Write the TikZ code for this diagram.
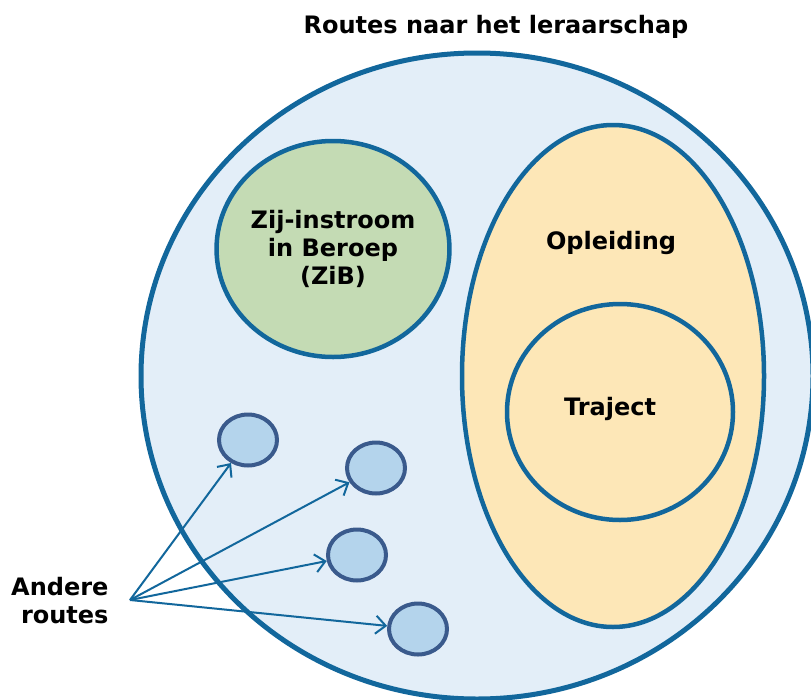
\documentclass[tikz,border=0pt]{standalone}
\usepackage{fontspec}
\setmainfont{DejaVu Sans}
\usetikzlibrary{shapes.geometric,arrows.meta}
\definecolor{rand}{HTML}{12679C}
\definecolor{lichtblauw}{HTML}{E3EEF8}
\definecolor{groen}{HTML}{C4DBB4}
\definecolor{geel}{HTML}{FDE7B7}
\definecolor{bolblauw}{HTML}{B4D4EC}
\definecolor{bolrand}{HTML}{3A5A8C}

\begin{document}
\begin{tikzpicture}[x=1pt,y=-1pt,
  vak/.style={ellipse,draw=rand,line width=4.5pt,inner sep=0pt},
  bol/.style={ellipse,draw=bolrand,fill=bolblauw,line width=4pt,minimum width=58pt,minimum height=51pt},
  tekst/.style={font=\fontsize{24}{28}\selectfont\bfseries,align=center},
  pijl/.style={-{Straight Barb[length=10pt,width=18pt]},rand,line width=2pt}]
\useasboundingbox (0,0) rectangle (811,699);
% grote bol met alle routes
\node[vak,line width=5pt,fill=lichtblauw,minimum width=672pt,minimum height=646pt] (routes) at (477,376) {};
\node[tekst,anchor=base] (titel) at (496,33) {Routes naar het leraarschap};
% ZiB
\node[vak,fill=groen,minimum width=230pt,minimum height=216pt,tekst] (zib) at (333,249) {Zij-instroom\\in Beroep\\(ZiB)};
% opleiding en traject
\node[vak,fill=geel,minimum width=302pt,minimum height=502pt] (opl) at (613,376) {};
\node[tekst,anchor=base] (opltekst) at (611,249) {Opleiding};
\node[vak,fill=geel,minimum width=226pt,minimum height=216pt] (traject) at (620,412) {};
\node[tekst,anchor=base] (trajecttekst) at (610,415) {Traject};
% andere routes
\node[bol] (bol1) at (248,440) {};
\node[bol] (bol2) at (376,468) {};
\node[bol] (bol3) at (357,555) {};
\node[bol] (bol4) at (418,629) {};
\node[tekst,align=right,anchor=east] (andere) at (112,601) {Andere\\routes};
\coordinate (bron) at (130,600);
\draw[pijl] (bron) -- (bol1);
\draw[pijl] (bron) -- (bol2);
\draw[pijl] (bron) -- (bol3);
\draw[pijl] (bron) -- (bol4);
\end{tikzpicture}
\end{document}
